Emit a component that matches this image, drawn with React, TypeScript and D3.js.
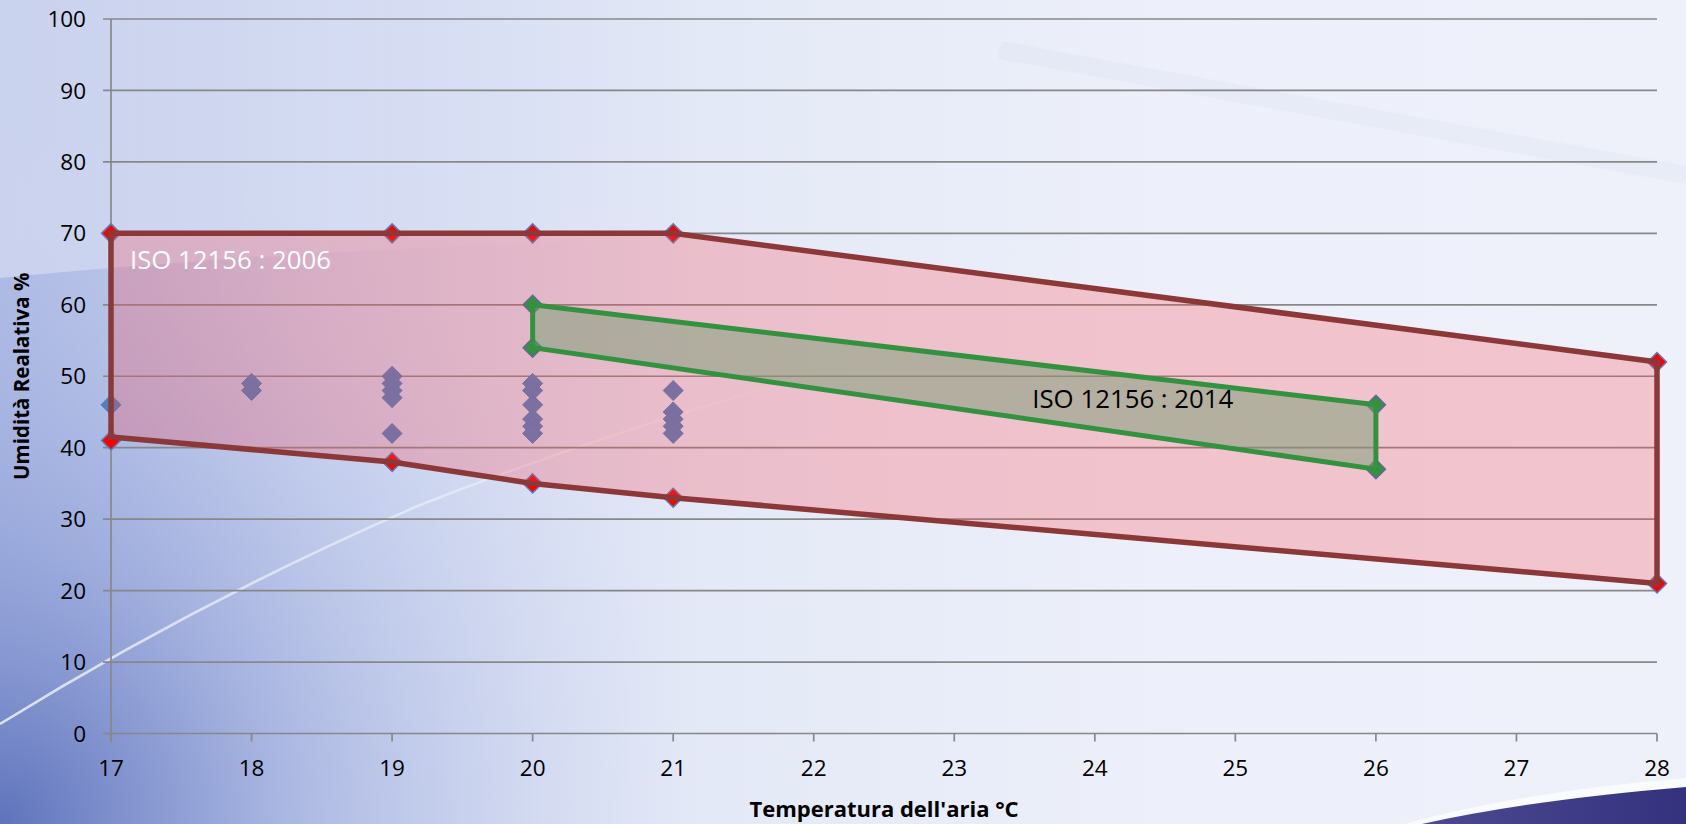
import React from 'react';
import * as d3 from 'd3';

const W = 1686;
const H = 824;

// Axis ticks
const tempTicks = [17, 18, 19, 20, 21, 22, 23, 24, 25, 26, 27, 28];
const rhTicks = [0, 10, 20, 30, 40, 50, 60, 70, 80, 90, 100];

// Measured indoor conditions (air temperature °C, relative humidity %)
const sampleTemp = [17, 18, 18, 19, 19, 19, 19, 19, 20, 20, 20, 20, 20, 20, 21, 21, 21, 21, 21];
const sampleRH = [46, 49, 48, 50, 49, 48, 47, 42, 49, 48, 46, 44, 43, 42, 48, 45, 44, 43, 42];

// ISO 12156 : 2006 comfort envelope (vertices, clockwise)
const iso2006Temp = [17, 19, 20, 21, 28, 28, 21, 20, 19, 17];
const iso2006RH = [70, 70, 70, 70, 52, 21, 33, 35, 38, 41];
const iso2006OutlineRH = [70, 70, 70, 70, 52, 21, 33, 35, 38, 41.5];

// ISO 12156 : 2014 comfort envelope
const iso2014Temp = [20, 26, 26, 20];
const iso2014RH = [60, 46, 37, 54];

const FONT = "'Open Sans', 'Noto Sans', sans-serif";

const x = d3.scaleLinear().domain([17, 28]).range([111, 1657]);
const y = d3.scaleLinear().domain([0, 100]).range([733.5, 19]);

const diamondType = (d3 as any).symbolDiamond2 || d3.symbolDiamond;
const diamond = (half: number) =>
  d3.symbol().type(diamondType).size(Math.pow(half / 0.62625, 2))() as string;

const zip = (xs: number[], ys: number[]) => xs.map((t, i) => [t, ys[i]] as [number, number]);

const polyLine = d3
  .line<[number, number]>()
  .x((d) => x(d[0]))
  .y((d) => y(d[1]))
  .curve(d3.curveLinearClosed);

function Background() {
  return (
    <g>
      <defs>
        <linearGradient id="bgH" x1="0" y1="0" x2="1" y2="0">
          <stop offset="0" stopColor="#adbae4" />
          <stop offset="0.18" stopColor="#cad3ef" />
          <stop offset="0.42" stopColor="#e4e9f7" />
          <stop offset="0.7" stopColor="#edf0fa" />
          <stop offset="1" stopColor="#eef1fa" />
        </linearGradient>
        <radialGradient id="bgDark" cx="0" cy="824" r="690" gradientUnits="userSpaceOnUse">
          <stop offset="0" stopColor="#5a6fb9" stopOpacity="0.95" />
          <stop offset="0.4" stopColor="#7d8fcf" stopOpacity="0.42" />
          <stop offset="1" stopColor="#c9d2ef" stopOpacity="0" />
        </radialGradient>
        <linearGradient id="bgTopLeft" x1="0" y1="0" x2="1" y2="0">
          <stop offset="0" stopColor="#ffffff" stopOpacity="0.35" />
          <stop offset="0.6" stopColor="#ffffff" stopOpacity="0.1" />
          <stop offset="1" stopColor="#ffffff" stopOpacity="0" />
        </linearGradient>
        <linearGradient id="glint" x1="0" y1="0" x2="900" y2="0" gradientUnits="userSpaceOnUse">
          <stop offset="0" stopColor="#ffffff" stopOpacity="0.75" />
          <stop offset="0.45" stopColor="#ffffff" stopOpacity="0.45" />
          <stop offset="1" stopColor="#ffffff" stopOpacity="0" />
        </linearGradient>
        <linearGradient id="swoosh" x1="0" y1="0" x2="1" y2="0">
          <stop offset="0" stopColor="#4b4a93" />
          <stop offset="1" stopColor="#34327c" />
        </linearGradient>
      </defs>
      <rect x={0} y={0} width={W} height={H} fill="url(#bgH)" />
      <rect x={0} y={0} width={W} height={H} fill="url(#bgDark)" />
      <path d="M0,0 L700,0 L700,238 Q300,248 0,278 Z" fill="url(#bgTopLeft)" />
      <path d="M0,724 Q200,600 420,505 Q700,395 1000,330" fill="none" stroke="url(#glint)" strokeWidth={2.5} />
      <path
        d="M1000,50 Q1350,115 1686,175"
        fill="none"
        stroke="#c8d0e8"
        strokeOpacity={0.14}
        strokeWidth={18}
      />
      <path d="M1405,824 Q1520,792 1686,778 L1686,787 Q1530,800 1422,824 Z" fill="#ffffff" fillOpacity={0.7} />
      <path d="M1422,824 Q1530,800 1686,787 L1686,824 Z" fill="url(#swoosh)" />
    </g>
  );
}

export default function App() {
  const samples = zip(sampleTemp, sampleRH);
  const lim2006 = zip(iso2006Temp, iso2006RH);
  const out2006 = zip(iso2006Temp, iso2006OutlineRH);
  const lim2014 = zip(iso2014Temp, iso2014RH);

  return (
    <div style={{ position: 'absolute', left: 0, top: 0, width: W, height: H }}>
      <svg width={W} height={H} viewBox={`0 0 ${W} ${H}`} style={{ display: 'block' }}>
        <Background />

        {/* horizontal gridlines */}
        {rhTicks
          .filter((t) => t > 0)
          .map((t) => (
            <line key={`g${t}`} x1={x(17) - 8} x2={x(28)} y1={y(t)} y2={y(t)} stroke="#888888" strokeWidth={1.7} />
          ))}

        {/* axes */}
        <line x1={x(17)} x2={x(17)} y1={y(100)} y2={y(0) + 8} stroke="#888888" strokeWidth={1.7} />
        <line x1={x(17) - 8} x2={x(28)} y1={y(0)} y2={y(0)} stroke="#888888" strokeWidth={1.7} />
        {tempTicks.map((t) => (
          <line key={`xt${t}`} x1={x(t)} x2={x(t)} y1={y(0)} y2={y(0) + 8} stroke="#888888" strokeWidth={1.7} />
        ))}

        {/* tick labels */}
        {rhTicks.map((t) => (
          <text
            key={`yl${t}`}
            x={86}
            y={y(t)}
            dy="0.36em"
            textAnchor="end"
            fontFamily={FONT}
            fontSize={22.5}
            fill="#000"
          >
            {t}
          </text>
        ))}
        {tempTicks.map((t) => (
          <text
            key={`xl${t}`}
            x={x(t)}
            y={776}
            textAnchor="middle"
            fontFamily={FONT}
            fontSize={22.5}
            fill="#000"
          >
            {t}
          </text>
        ))}

        {/* measured samples */}
        {samples.map((d, i) => (
          <path
            key={`s${i}`}
            d={diamond(10)}
            transform={`translate(${x(d[0])},${y(d[1])})`}
            fill="#4f81bd"
            stroke="#4a7ebb"
            strokeWidth={1}
          />
        ))}

        {/* 2006 limit markers */}
        {lim2006.map((d, i) => (
          <path
            key={`r${i}`}
            d={diamond(9.5)}
            transform={`translate(${x(d[0])},${y(d[1])})`}
            fill="#ff0000"
            stroke="#4f81bd"
            strokeWidth={1.5}
          />
        ))}

        {/* ISO 12156 : 2006 envelope */}
        <path
          d={polyLine(out2006) as string}
          fill="#ff4046"
          fillOpacity={0.25}
          stroke="#8c3838"
          strokeWidth={5.5}
          strokeLinejoin="miter"
        />

        {/* 2014 limit markers */}
        {lim2014.map((d, i) => (
          <path
            key={`v${i}`}
            d={diamond(9.5)}
            transform={`translate(${x(d[0])},${y(d[1])})`}
            fill="#33923f"
            stroke="#6a639c"
            strokeWidth={1.5}
          />
        ))}

        {/* ISO 12156 : 2014 envelope */}
        <path
          d={polyLine(lim2014) as string}
          fill="#789c74"
          fillOpacity={0.5}
          stroke="#33923f"
          strokeWidth={5}
          strokeLinejoin="miter"
        />

        {/* region labels */}
        <text x={x(17.135)} y={y(65)} fontFamily={FONT} fontSize={25.8} fill="#ffffff">
          ISO 12156 : 2006
        </text>
        <text x={x(23.555)} y={y(45.55)} fontFamily={FONT} fontSize={25.8} fill="#000000">
          ISO 12156 : 2014
        </text>

        {/* axis titles */}
        <text
          transform={`translate(22,${(y(0) + y(100)) / 2}) rotate(-90)`}
          dy="0.35em"
          textAnchor="middle"
          fontFamily={FONT}
          fontWeight="bold"
          fontSize={20.5}
          fill="#000"
        >
          Umidità Realativa %
        </text>
        <text
          x={884}
          y={817}
          textAnchor="middle"
          fontFamily={FONT}
          fontWeight="bold"
          fontSize={22}
          fill="#000"
        >
          Temperatura dell'aria °C
        </text>
      </svg>
    </div>
  );
}
